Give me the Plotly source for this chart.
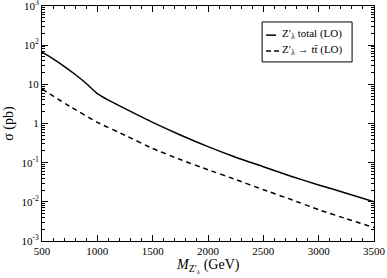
import plotly.graph_objects as go

mass_total = [500, 600, 700, 800, 900, 1000, 1100, 1250, 1500, 1750, 2000, 2250, 2500, 2750, 3000, 3250, 3500]
sigma_total = [66, 44.7, 28.8, 17.8, 10.5, 5.8, 3.95, 2.4, 1.07, 0.51, 0.257, 0.138, 0.079, 0.045, 0.027, 0.0166, 0.010]
mass_tt = [500, 750, 1000, 1250, 1500, 1750, 2000, 2250, 2500, 2750, 3000, 3250, 3500]
sigma_tt = [7.6, 2.75, 1.07, 0.5, 0.23, 0.12, 0.066, 0.037, 0.0204, 0.0115, 0.0063, 0.0037, 0.0022]

legend_labels = ["Z′<sub>λ</sub> total (LO)", "Z′<sub>λ</sub> → tt̄ (LO)"]

x_ticks = [500, 1000, 1500, 2000, 2500, 3000, 3500]
y_ticks = [1e-3, 1e-2, 1e-1, 1, 10, 100, 1000]
y_tick_text = ["10<sup>-3</sup>", "10<sup>-2</sup>", "10<sup>-1</sup>", "1", "10", "10<sup>2</sup>", "10<sup>3</sup>"]

font = "Liberation Serif, Times New Roman, serif"

fig = go.Figure()
fig.add_trace(go.Scatter(x=mass_total, y=sigma_total, mode="lines",
                         line=dict(color="black", width=1.5, shape="spline", smoothing=0.6),
                         name=legend_labels[0]))
fig.add_trace(go.Scatter(x=mass_tt, y=sigma_tt, mode="lines",
                         line=dict(color="black", width=1.5, dash="5px,4px", shape="spline", smoothing=0.3),
                         name=legend_labels[1]))

# custom legend box
fig.add_shape(type="rect", xref="paper", yref="paper", x0=0.663, x1=0.934, y0=0.762, y1=0.932,
              line=dict(color="black", width=1), fillcolor="white", layer="above")
fig.add_shape(type="line", xref="paper", yref="paper", x0=0.675, x1=0.705, y0=0.876, y1=0.876,
              line=dict(color="black", width=1.5), layer="above")
fig.add_shape(type="line", xref="paper", yref="paper", x0=0.675, x1=0.715, y0=0.808, y1=0.808,
              line=dict(color="black", width=1.5, dash="5px,3px"), layer="above")
for yy, lab in zip([0.882, 0.814], legend_labels):
    fig.add_annotation(x=0.717, y=yy, xref="paper", yref="paper", text=lab, showarrow=False,
                       xanchor="left", yanchor="middle", font=dict(size=11, family=font, color="black"))

# x-axis title
fig.add_annotation(x=0.5, y=-0.058, xref="paper", yref="paper",
                   text="<i>M</i><sub>Z′<sub>λ</sub></sub> (GeV)", showarrow=False,
                   xanchor="center", yanchor="top", font=dict(size=14, family=font, color="black"))

fig.update_layout(
    width=387, height=278,
    margin=dict(l=42, r=13, t=6, b=37),
    paper_bgcolor="white", plot_bgcolor="white",
    font=dict(family=font, size=12, color="black"),
    showlegend=False,
)
fig.update_xaxes(range=[499.9, 3500.1], tickvals=x_ticks, ticks="inside", ticklen=6, tickwidth=1, tickcolor="black",
                 minor=dict(dtick=100, ticks="inside", ticklen=3, tickcolor="black"),
                 showline=True, linecolor="black", linewidth=1, mirror="ticks", showgrid=False, zeroline=False,
                 tickfont=dict(size=11), automargin=False, ticklabeloverflow="allow")
fig.update_yaxes(type="log", range=[-3.0005, 3.0005], tickvals=y_ticks, ticktext=y_tick_text, ticks="inside",
                 ticklen=6, tickwidth=1, tickcolor="black",
                 minor=dict(ticks="inside", ticklen=3, tickcolor="black",
                            tickvals=[m * 10**e for e in range(-3, 3) for m in range(2, 10)]),
                 showline=True, linecolor="black", linewidth=1, mirror="ticks", showgrid=False, zeroline=False,
                 tickfont=dict(size=11), automargin=False, ticklabeloverflow="allow",
                 title=dict(text="σ (pb)", font=dict(size=14), standoff=4))

fig.write_html("out.html", config={"displayModeBar": False},
               post_script="document.body.style.margin='0';")
